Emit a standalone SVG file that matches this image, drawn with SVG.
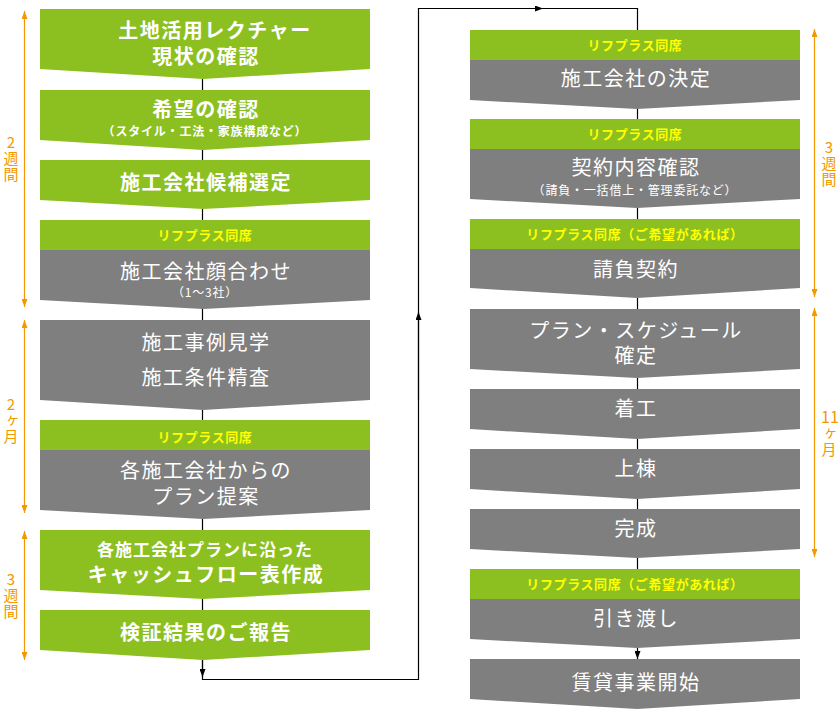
<svg xmlns="http://www.w3.org/2000/svg" width="840" height="710" viewBox="0 0 840 710">
<defs>
<style>
.g{fill:#8cc021}
.k{fill:#7f7f7f}
.t{fill:#ffffff;font-family:"Noto Sans CJK JP","Noto Sans",sans-serif;font-size:20px;text-anchor:middle;letter-spacing:1.5px}
.tb{font-weight:bold}
.s{font-size:12px;letter-spacing:0.8px}
.m{font-size:17px;letter-spacing:1px}
.h{fill:#ffff00;font-family:"Noto Sans CJK JP","Noto Sans",sans-serif;font-size:13px;font-weight:bold;text-anchor:middle;letter-spacing:0.6px}
.o{fill:#f39800;font-family:"Noto Sans CJK JP","Noto Sans",sans-serif;font-size:16px}
.ls{font-size:15px;letter-spacing:1px}
.v{writing-mode:vertical-rl;text-orientation:upright}
.c{fill:none;stroke:#000;stroke-width:1.2}
.ol{fill:none;stroke:#f39800;stroke-width:1.2}
</style>
<marker id="ah" viewBox="0 0 8 6" refX="8" refY="3" markerWidth="8" markerHeight="6" markerUnits="userSpaceOnUse" orient="auto"><path d="M0,0 L8,3 L0,6 Z" fill="#000"/></marker>
<marker id="oa" viewBox="0 0 8 6" refX="8" refY="3" markerWidth="8" markerHeight="6" markerUnits="userSpaceOnUse" orient="auto-start-reverse"><path d="M0,0 L8,3 L0,6 Z" fill="#f39800"/></marker>
</defs>
<rect width="840" height="710" fill="#fff"/>

<g id="connectors">
<path class="c" d="M202.5 79 V90 M202.5 150 V160 M202.5 209 V220 M202.5 309 V320 M202.5 410 V420 M202.5 519 V530 M202.5 599 V610"/>
<path class="c" d="M202.5 660 V679.5 H418.5 V8.5 H637.5 V30"/>
<path class="c" d="M202.5 660 V677" marker-end="url(#ah)"/>
<path class="c" d="M418.5 400 V312" marker-end="url(#ah)"/>
<path class="c" d="M418.5 8.5 H543" marker-end="url(#ah)"/>
<path class="c" d="M637.5 109 V119 M637.5 208 V219 M637.5 298 V309 M637.5 378 V389 M637.5 439 V449 M637.5 499 V509 M637.5 558 V569"/>
<path class="c" d="M637.5 648 V659" marker-end="url(#ah)"/>
</g>

<g id="timeline">
<path class="ol" d="M24.5 11 V307" marker-start="url(#oa)" marker-end="url(#oa)"/>
<text class="o v ls" x="11" y="135">2週間</text>
<path class="ol" d="M24.5 320 V513" marker-start="url(#oa)" marker-end="url(#oa)"/>
<text class="o v ls" x="11" y="397">2ヶ月</text>
<path class="ol" d="M24.5 531 V660" marker-start="url(#oa)" marker-end="url(#oa)"/>
<text class="o v ls" x="11" y="572">3週間</text>
<path class="ol" d="M814.5 29 V297" marker-start="url(#oa)" marker-end="url(#oa)"/>
<text class="o v ls" x="829" y="140">3週間</text>
<path class="ol" d="M814.5 308 V557" marker-start="url(#oa)" marker-end="url(#oa)"/>
<text class="o" x="830" y="423" text-anchor="middle" font-size="15">11</text>
<text class="o v ls" x="829" y="426">ヶ月</text>
</g>

<g id="L1"><path class="g" d="M40 9 H370 V69 L203 79 L40 69 Z"/>
<text class="t tb" x="215" y="38">土地活用レクチャー</text><text class="t tb" x="206" y="64">現状の確認</text></g>
<g id="L2"><path class="g" d="M40 90 H370 V140 L203 150 L40 140 Z"/>
<text class="t tb" x="206" y="117">希望の確認</text><text class="t tb s" x="205" y="136">（スタイル・工法・家族構成など）</text></g>
<g id="L3"><path class="g" d="M40 160 H370 V200 L203 209 L40 200 Z"/>
<text class="t tb" x="206" y="190">施工会社候補選定</text></g>
<g id="L4"><rect class="g" x="40" y="220" width="330" height="30"/><path class="k" d="M40 250 H370 V300 L203 309 L40 300 Z"/>
<text class="h" x="205" y="240">リフプラス同席</text>
<text class="t" x="206" y="279">施工会社顔合わせ</text><text class="t s" x="205" y="297">（1〜3社）</text></g>
<g id="L5"><path class="k" d="M40 320 H370 V400 L203 410 L40 400 Z"/>
<text class="t" x="206" y="350">施工事例見学</text><text class="t" x="206" y="385">施工条件精査</text></g>
<g id="L6"><rect class="g" x="40" y="420" width="330" height="30"/><path class="k" d="M40 450 H370 V510 L203 519 L40 510 Z"/>
<text class="h" x="205" y="442">リフプラス同席</text>
<text class="t" x="206" y="478">各施工会社からの</text><text class="t" x="206" y="504">プラン提案</text></g>
<g id="L7"><path class="g" d="M40 530 H370 V590 L203 599 L40 590 Z"/>
<text class="t tb m" x="205" y="556">各施工会社プランに沿った</text><text class="t tb" x="206" y="582">キャッシュフロー表作成</text></g>
<g id="L8"><path class="g" d="M40 610 H370 V650 L203 660 L40 650 Z"/>
<text class="t tb" x="206" y="640">検証結果のご報告</text></g>

<g id="R1"><rect class="g" x="470" y="30" width="330" height="30"/><path class="k" d="M470 60 H800 V100 L637 109 L470 100 Z"/>
<text class="h" x="635" y="50">リフプラス同席</text><text class="t" x="636" y="86">施工会社の決定</text></g>
<g id="R2"><rect class="g" x="470" y="119" width="330" height="30"/><path class="k" d="M470 149 H800 V199 L637 208 L470 199 Z"/>
<text class="h" x="635" y="139">リフプラス同席</text><text class="t" x="636" y="175">契約内容確認</text><text class="t s" x="635" y="195">（請負・一括借上・管理委託など）</text></g>
<g id="R3"><rect class="g" x="470" y="219" width="330" height="30"/><path class="k" d="M470 249 H800 V288 L637 298 L470 288 Z"/>
<text class="h" x="635" y="239">リフプラス同席（ご希望があれば）</text><text class="t" x="636" y="277">請負契約</text></g>
<g id="R4"><path class="k" d="M470 309 H800 V369 L637 378 L470 369 Z"/>
<text class="t" x="636" y="338">プラン・スケジュール</text><text class="t" x="636" y="363">確定</text></g>
<g id="R5"><path class="k" d="M470 389 H800 V429 L637 439 L470 429 Z"/><text class="t" x="636" y="416">着工</text></g>
<g id="R6"><path class="k" d="M470 449 H800 V489 L637 499 L470 489 Z"/><text class="t" x="636" y="476">上棟</text></g>
<g id="R7"><path class="k" d="M470 509 H800 V549 L637 558 L470 549 Z"/><text class="t" x="636" y="536">完成</text></g>
<g id="R8"><rect class="g" x="470" y="569" width="330" height="30"/><path class="k" d="M470 599 H800 V639 L637 648 L470 639 Z"/>
<text class="h" x="635" y="589">リフプラス同席（ご希望があれば）</text><text class="t" x="636" y="626">引き渡し</text></g>
<g id="R9"><path class="k" d="M470 659 H800 V699 L637 709 L470 699 Z"/><text class="t" x="636" y="690">賃貸事業開始</text></g>
</svg>
